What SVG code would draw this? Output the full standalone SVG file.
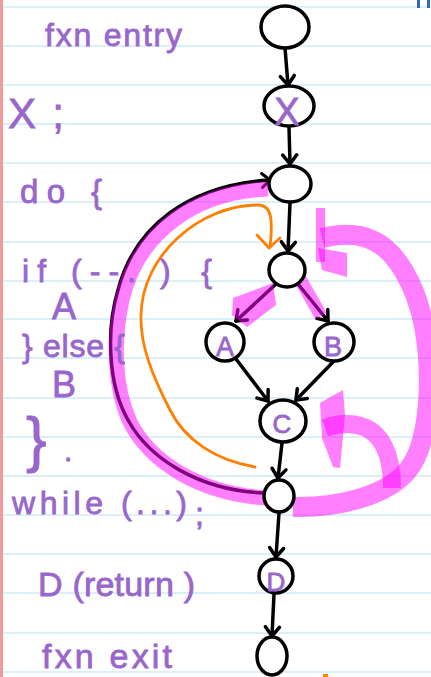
<svg xmlns="http://www.w3.org/2000/svg" width="431" height="677" viewBox="0 0 431 677">
<defs>
<style>
.rule{stroke:#cfeaf7;stroke-width:1.5}
.edge{fill:none;stroke:#000;stroke-width:3.5;stroke-linecap:round;stroke-linejoin:round}
.node{fill:#fff;stroke:#000;stroke-width:3.5}
.hl{fill:none;stroke:#ff00ff;stroke-opacity:0.5}
.hlf{fill:#ff00ff;fill-opacity:0.5}
.txt{font-family:"Liberation Sans","DejaVu Sans",sans-serif;fill:#9966cc;stroke:#9966cc;stroke-width:0.8}
.lbl{font-family:"Liberation Sans","DejaVu Sans",sans-serif;fill:#9966cc;stroke:#9966cc;stroke-width:0.8;text-anchor:middle}
</style>
<marker id="ah" viewBox="-12 -10 14 20" markerWidth="14" markerHeight="20" refX="0" refY="0" orient="auto" markerUnits="userSpaceOnUse">
<path d="M-9,-7 L0,0 L-9,7" fill="none" stroke="#000" stroke-width="3.5" stroke-linecap="round" stroke-linejoin="round"/>
</marker>
<marker id="ahb" viewBox="-12 -10 14 20" markerWidth="14" markerHeight="20" refX="0" refY="0" orient="auto" markerUnits="userSpaceOnUse">
<path d="M-8,-7 L0,0 L-8,7" fill="none" stroke="#000" stroke-width="3" stroke-linecap="round" stroke-linejoin="round"/>
</marker>
</defs>
<rect width="431" height="677" fill="#fff"/>
<g id="paper">
<line class="rule" x1="0" y1="7" x2="431" y2="7"/>
<line class="rule" x1="0" y1="46" x2="431" y2="46"/>
<line class="rule" x1="0" y1="85" x2="431" y2="85"/>
<line class="rule" x1="0" y1="124" x2="431" y2="124"/>
<line class="rule" x1="0" y1="163" x2="431" y2="163"/>
<line class="rule" x1="0" y1="202" x2="431" y2="202"/>
<line class="rule" x1="0" y1="242" x2="431" y2="242"/>
<line class="rule" x1="0" y1="281" x2="431" y2="281"/>
<line class="rule" x1="0" y1="319" x2="431" y2="319"/>
<line class="rule" x1="0" y1="358" x2="431" y2="358"/>
<line class="rule" x1="0" y1="398" x2="431" y2="398"/>
<line class="rule" x1="0" y1="437" x2="431" y2="437"/>
<line class="rule" x1="0" y1="476" x2="431" y2="476"/>
<line class="rule" x1="0" y1="515" x2="431" y2="515"/>
<line class="rule" x1="0" y1="554" x2="431" y2="554"/>
<line class="rule" x1="0" y1="593" x2="431" y2="593"/>
<line class="rule" x1="0" y1="633" x2="431" y2="633"/>
<line class="rule" x1="0" y1="672" x2="431" y2="672"/>
<rect x="0" y="0" width="3" height="677" fill="#f29a9a"/>
<rect x="417" y="0" width="3" height="8" fill="#3366cc"/>
<rect x="427" y="0" width="3" height="8" fill="#3366cc"/>
<rect x="323" y="674" width="5" height="3" fill="#ff8000"/>
</g>
<g id="connectors">
<path class="edge" d="M285,48 L288,85" marker-end="url(#ah)"/>
<path class="edge" d="M289,127 L290,164" marker-end="url(#ah)"/>
<path class="edge" d="M290,203 L288,251" marker-end="url(#ah)"/>
<path class="edge" d="M276,284 L236,321" marker-end="url(#ah)"/>
<path class="edge" d="M298,284 L328,321" marker-end="url(#ah)"/>
<path class="edge" d="M236,359 L268,401" marker-end="url(#ah)"/>
<path class="edge" d="M334,361 L296,400" marker-end="url(#ah)"/>
<path class="edge" d="M282,443 L278,478" marker-end="url(#ah)"/>
<path class="edge" d="M279,513 L276,557" marker-end="url(#ah)"/>
<path class="edge" d="M274,594 L272,636" marker-end="url(#ah)"/>
<path class="edge" d="M263,493 C200,490 150,460 128,420 C108,385 106,330 118,290 C135,225 190,185 270,180" marker-end="url(#ahb)"/>
</g>
<g id="highlights">
<path class="hl" stroke-width="15" d="M267,498 C200,494 150,462 130,422 C114,388 113,340 122,300 C138,232 195,192 268,189"/>
<path class="hl" stroke-width="20" d="M293,507 C340,508 388,495 408,470 C432,440 432,370 424,326 C416,285 396,250 372,240 C355,232 338,234 322,238"/>
<polygon class="hlf" points="316,208 325,208 325,262 316,262"/>
<polygon class="hlf" points="318,248 347,253 347,277 322,270"/>
<path class="hl" stroke-width="18" d="M392,488 C392,455 382,430 357,425 C345,423 333,425 325,428"/>
<polygon class="hlf" points="320,403 343,390 345,415 340,468 333,467 322,438"/>
<polygon class="hlf" points="233,298 273,283 276,305 247,327 232,315"/>
<path class="hl" stroke-width="13" d="M300,279 L321,316"/>
</g>
<g id="orange-path">
<path d="M255,467 C215,460 185,440 170,410 C152,375 140,345 141,315 C142,255 200,205 258,205 C272,205 273,220 270,247" fill="none" stroke="#ff8000" stroke-width="2.8" stroke-linecap="round"/>
<path d="M257,235 L269,248 L280,238" fill="none" stroke="#ff8000" stroke-width="2.8" stroke-linecap="round" stroke-linejoin="round"/>
</g>
<g id="n-entry"><ellipse class="node" cx="285" cy="27" rx="24" ry="21"/></g>
<g id="n-x"><ellipse class="node" cx="289" cy="106" rx="25" ry="20"/><text class="lbl" x="287" y="125" font-size="38">X</text></g>
<g id="n-do"><ellipse class="node" cx="290" cy="184" rx="21" ry="18"/></g>
<g id="n-if"><ellipse class="node" cx="287" cy="270" rx="18" ry="17"/></g>
<g id="n-a"><ellipse class="node" cx="225" cy="342" rx="19" ry="19"/><text class="lbl" x="225" y="356" font-size="27">A</text></g>
<g id="n-b"><ellipse class="node" cx="334" cy="342" rx="20" ry="19"/><text class="lbl" x="333" y="356" font-size="27">B</text></g>
<g id="n-c"><ellipse class="node" cx="283" cy="421" rx="23" ry="21"/><text class="lbl" x="282" y="433" font-size="26">C</text></g>
<g id="n-while"><ellipse class="node" cx="279" cy="496" rx="15" ry="16"/></g>
<g id="n-d"><ellipse class="node" cx="276" cy="576" rx="17" ry="17"/><text class="lbl" x="276" y="591" font-size="26">D</text></g>
<g id="n-exit"><ellipse class="node" cx="272" cy="656" rx="15" ry="19"/></g>
<g id="code">
<text class="txt" x="45" y="46" font-size="32" textLength="137" lengthAdjust="spacing">fxn entry</text>
<text class="txt" x="8" y="128" font-size="42" textLength="56" lengthAdjust="spacing">X ;</text>
<text class="txt" x="20" y="203" font-size="33" textLength="82" lengthAdjust="spacing">do {</text>
<text class="txt" x="22" y="282" font-size="32" textLength="114" lengthAdjust="spacing">if (--.</text>
<text class="txt" x="160" y="282" font-size="32" textLength="52" lengthAdjust="spacing">) {</text>
<text class="txt" x="52" y="319" font-size="36">A</text>
<text class="txt" x="22" y="357" font-size="32" textLength="103" lengthAdjust="spacing">} else {</text>
<text class="txt" x="52" y="397" font-size="36">B</text>
<text class="txt" x="26" y="460" font-size="62" stroke-width="0">}</text>
<text class="txt" x="64" y="461" font-size="30">.</text>
<text class="txt" x="12" y="514" font-size="32" textLength="175" lengthAdjust="spacing">while (...)</text>
<text class="txt" x="195" y="525" font-size="32">;</text>
<text class="txt" x="38" y="596" font-size="34" textLength="157" lengthAdjust="spacing">D (return )</text>
<text class="txt" x="42" y="668" font-size="34" textLength="130" lengthAdjust="spacing">fxn exit</text>
</g>
</svg>
